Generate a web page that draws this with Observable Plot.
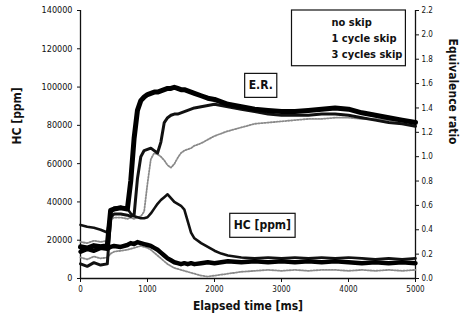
<!DOCTYPE html>
<html><head><meta charset="utf-8">
<script src="https://cdn.jsdelivr.net/npm/d3@7"></script>
<script src="https://cdn.jsdelivr.net/npm/@observablehq/plot@0.6"></script>
<style>
body{margin:0;background:#fff;}
#chart{position:relative;width:467px;height:329px;}
</style></head><body><div id="chart"></div>
<script>
// ---- data ----
const time = [0,100,200,300,400,450,500,600,700,750,800,850,900,950,1000,1050,1100,1150,1200,1250,1300,1350,1400,1450,1500,1550,1600,1650,1700,1800,1900,2000,2100,2200,2400,2600,2800,3000,3200,3400,3600,3800,4000,4200,4400,4600,4800,5000];

const erNoSkip = [0.26,0.25,0.27,0.26,0.27,0.56,0.57,0.58,0.57,0.80,1.15,1.38,1.46,1.49,1.51,1.52,1.53,1.53,1.54,1.55,1.56,1.56,1.57,1.56,1.55,1.55,1.54,1.53,1.52,1.50,1.48,1.47,1.45,1.43,1.41,1.39,1.38,1.37,1.37,1.38,1.39,1.40,1.39,1.36,1.34,1.32,1.30,1.28];
const erOneSkip = [0.12,0.10,0.13,0.11,0.12,0.50,0.53,0.53,0.52,0.51,0.52,0.82,1.00,1.05,1.06,1.07,1.05,1.03,1.12,1.28,1.32,1.34,1.35,1.35,1.36,1.37,1.38,1.39,1.40,1.41,1.42,1.43,1.42,1.41,1.39,1.37,1.35,1.34,1.34,1.34,1.35,1.35,1.34,1.32,1.30,1.28,1.27,1.25];
const erThreeSkip = [0.30,0.29,0.31,0.30,0.31,0.48,0.50,0.50,0.49,0.50,0.49,0.50,0.51,0.55,0.78,0.98,1.03,1.02,1.00,0.97,0.93,0.91,0.94,0.99,1.03,1.05,1.06,1.07,1.09,1.11,1.14,1.17,1.19,1.21,1.24,1.27,1.28,1.29,1.30,1.31,1.31,1.32,1.32,1.31,1.31,1.30,1.29,1.27];

const hcNoSkip = [14000,15500,14500,16000,15500,16500,17000,16500,17500,18500,18000,19000,18500,18000,17500,17000,16000,15000,13500,12000,10500,9500,8500,8000,7500,8000,7500,8000,7500,8000,8500,8000,8500,9000,8500,9000,8500,9000,8500,9000,8500,9000,8500,8000,8500,8000,8500,8000];
const hcOneSkip = [28000,27000,26500,25500,24000,35000,37000,37500,36500,34000,32500,32000,31500,31500,32000,34000,36500,39000,41000,42500,44000,42000,40000,39000,38000,36000,30000,24000,21000,18500,16500,14500,13000,12000,11000,10500,11000,10500,11000,10500,11000,10500,11000,10500,10000,10500,10000,10500];
const hcThreeSkip = [11000,10000,11500,10500,11000,13000,14000,14500,15000,15500,16000,16500,17000,16500,16000,15000,13500,12000,10500,9000,7500,6500,5500,5000,4500,4000,3500,3000,2500,1500,1000,1500,2000,2500,3500,4000,4500,4000,4500,4000,4500,4500,4000,4500,4000,4500,4000,4500];

const seriesNames = ["no skip", "1 cycle skip", "3 cycles skip"];
const xTicks = [0,1000,2000,3000,4000,5000];
const hcTicks = [0,20000,40000,60000,80000,100000,120000,140000];
const erTicks = [0.0,0.2,0.4,0.6,0.8,1.0,1.2,1.4,1.6,1.8,2.0,2.2];
const labels = {x: "Elapsed time [ms]", yLeft: "HC [ppm]", yRight: "Equivalence ratio", er: "E.R.", hc: "HC [ppm]"};

// ---- build table ----
const hcMax = hcTicks[hcTicks.length-1], erMax = erTicks[erTicks.length-1];
const k = hcMax / erMax; // ER -> HC-axis units
const rows = [];
function add(series, kind, values){
  values.forEach((v,i)=>rows.push({t: time[i], v: kind==="er" ? v*k : v, series, kind}));
}
add(seriesNames[0],"er",erNoSkip); add(seriesNames[1],"er",erOneSkip); add(seriesNames[2],"er",erThreeSkip);
add(seriesNames[0],"hc",hcNoSkip); add(seriesNames[1],"hc",hcOneSkip); add(seriesNames[2],"hc",hcThreeSkip);
const sel = (s,kd)=>rows.filter(r=>r.series===s && r.kind===kd);

const FONT = "'Liberation Sans Narrow','DejaVu Sans Condensed','Liberation Sans',sans-serif";

const chart = Plot.plot({
  width: 467, height: 329,
  marginLeft: 80, marginRight: 52, marginTop: 10, marginBottom: 51,
  x: {domain: [xTicks[0], xTicks[xTicks.length-1]]},
  y: {domain: [0, hcMax]},
  style: {fontFamily: FONT, background: "white", color: "#111"},
  marks: [
    Plot.axisX({ticks: xTicks, tickFormat: d=>String(d), label: null, fontSize: 8, tickSize: 4, tickPadding: 4}),
    Plot.axisY({anchor: "left", ticks: hcTicks, tickFormat: d=>String(d), label: null, fontSize: 9, tickSize: 3, tickPadding: 5}),
    Plot.axisY({anchor: "right", ticks: erTicks.map(v=>v*k), tickFormat: v=>(v/k).toFixed(1), label: null, fontSize: 8, tickSize: 3, tickPadding: 3}),
    Plot.ruleX([xTicks[0], xTicks[xTicks.length-1]], {stroke: "#111", strokeWidth: 1.3}),
    Plot.ruleY([0], {stroke: "#111", strokeWidth: 1.3}),
    // grey dotted: 3 cycles skip
    Plot.line(sel(seriesNames[2],"hc"), {x:"t", y:"v", stroke:"#8a8a8a", strokeWidth:1.8, strokeDasharray:"1.5,1.5"}),
    Plot.line(sel(seriesNames[2],"er"), {x:"t", y:"v", stroke:"#8a8a8a", strokeWidth:1.8, strokeDasharray:"1.5,1.5"}),
    // 1 cycle skip
    Plot.line(sel(seriesNames[1],"hc"), {x:"t", y:"v", stroke:"#111", strokeWidth:2.6}),
    Plot.line(sel(seriesNames[1],"er"), {x:"t", y:"v", stroke:"#111", strokeWidth:3}),
    // no skip (thick)
    Plot.line(sel(seriesNames[0],"hc"), {x:"t", y:"v", stroke:"#000", strokeWidth:4.5}),
    Plot.line(sel(seriesNames[0],"er"), {x:"t", y:"v", stroke:"#000", strokeWidth:5}),
    // annotations
    Plot.text([labels.er], {x: 2690, y: 100800, text: d=>d, fontSize: 12, fontWeight: "bold", fill: "#111"}),
    Plot.text([labels.hc], {x: 2715, y: 27700, text: d=>d, fontSize: 12, fontWeight: "bold", fill: "#111"}),
    Plot.text([seriesNames.join("\n")], {frameAnchor: "top-right", textAnchor: "start", lineAnchor: "top", dx: -84, dy: 4, lineHeight: 1.45, fontSize: 11, fontWeight: "bold", fill: "#111"}),
    // axis titles
    Plot.text([labels.x], {frameAnchor: "bottom", dy: 31, fontSize: 12, fontWeight: "bold", fill: "#111"}),
    Plot.text([labels.yLeft], {frameAnchor: "left", dx: -63, rotate: -90, fontSize: 12, fontWeight: "bold", fill: "#111"}),
    Plot.text([labels.yRight], {frameAnchor: "right", dx: 37, rotate: 90, fontSize: 12, fontWeight: "bold", fill: "#111"})
  ]
});
document.getElementById("chart").appendChild(chart);

// white boxes with a border behind the annotation texts
const svgBox = chart.getBoundingClientRect();
function boxAround(str, padX, padY, padLeft, topY){
  const node = Array.from(chart.querySelectorAll("text")).find(t => t.textContent === str);
  if (!node) return;
  const r = node.getBoundingClientRect();
  let g = node; while (g.parentNode !== chart) g = g.parentNode;
  const x0 = r.left - svgBox.left - (padLeft ?? padX);
  const x1 = r.right - svgBox.left + padX;
  const y0 = topY ?? (r.top - svgBox.top - padY);
  const y1 = r.bottom - svgBox.top + padY;
  const rect = document.createElementNS("http://www.w3.org/2000/svg", "rect");
  rect.setAttribute("x", x0); rect.setAttribute("y", y0);
  rect.setAttribute("width", x1 - x0); rect.setAttribute("height", y1 - y0);
  rect.setAttribute("fill", "white"); rect.setAttribute("stroke", "#111"); rect.setAttribute("stroke-width", 1.2);
  chart.insertBefore(rect, g);
}
boxAround(labels.er, 4, 5);
boxAround(labels.hc, 4, 5);
boxAround(seriesNames.join(""), 3, 5, 40, 10);
</script></body></html>
